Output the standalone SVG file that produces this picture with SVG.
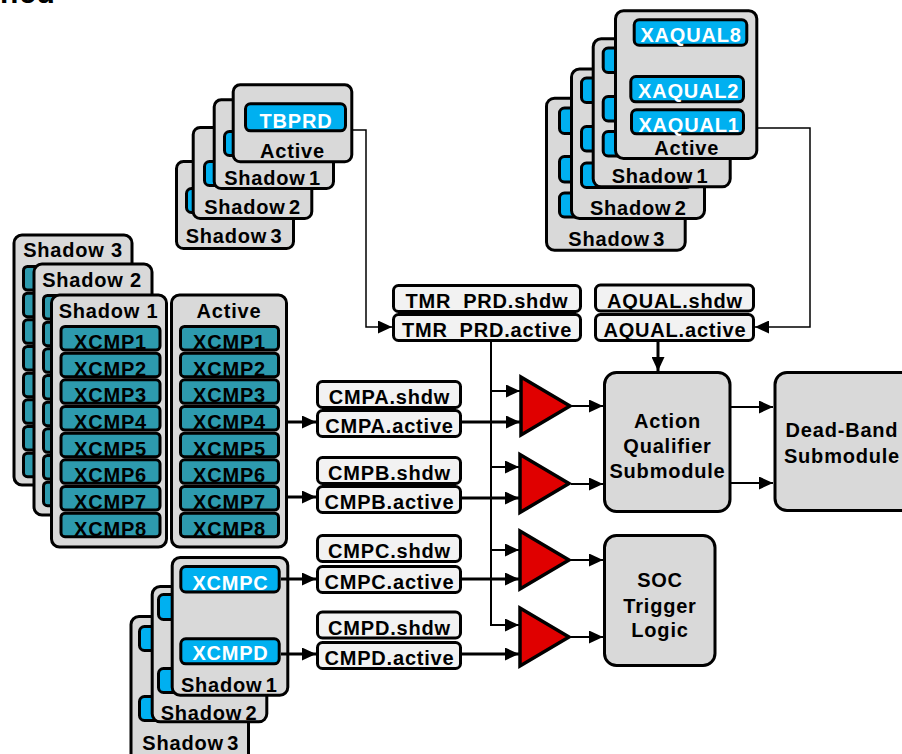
<svg xmlns="http://www.w3.org/2000/svg" width="902" height="754" viewBox="0 0 902 754">
<style>
text{font-family:"Liberation Sans",Arial,sans-serif;font-weight:bold;font-size:20px;letter-spacing:0.8px;text-anchor:middle;fill:#000}
.wt{fill:#fff}
.tight{word-spacing:-3px}
.box{fill:#d9d9d9;stroke:#000;stroke-width:3}
.reg{fill:#f2f2f2;stroke:#000;stroke-width:3}
.blue{fill:#00b0f0;stroke:#000;stroke-width:3}
.teal{fill:#2d9aae;stroke:#000;stroke-width:3}
.tri{fill:#e00000;stroke:#000;stroke-width:3.5;stroke-linejoin:miter}
.thin{fill:none;stroke:#000;stroke-width:1.5}
.mid{fill:none;stroke:#000;stroke-width:2}
.thick{fill:none;stroke:#000;stroke-width:3}
</style>
<defs>
<marker id="arrow" markerUnits="userSpaceOnUse" markerWidth="14" markerHeight="13" refX="14" refY="6.5" orient="auto"><path d="M0,0 L14,6.5 L0,13 z" fill="#000"/></marker>
</defs>
<rect width="902" height="754" fill="#fff"/>
<text x="0" y="3" style="font-size:30px;text-anchor:start">ned</text>

<!-- TBPRD register stack -->
<g id="tbprd-shadow3">
<rect class="box" x="176.5" y="161.5" width="117" height="87" rx="7"/>
<rect class="blue" x="186.5" y="188.5" width="90" height="24" rx="5"/>
<text class="tight" x="234" y="243">Shadow 3</text>
</g>
<g id="tbprd-shadow2">
<rect class="box" x="193.2" y="127.5" width="118.6" height="91" rx="7"/>
<rect class="blue" x="204.5" y="161.5" width="90" height="24" rx="5"/>
<text class="tight" x="252.5" y="214">Shadow 2</text>
</g>
<g id="tbprd-shadow1">
<rect class="box" x="214.2" y="99.8" width="119.3" height="88.7" rx="7"/>
<rect class="blue" x="224.5" y="131.5" width="90" height="24" rx="5"/>
<text class="tight" x="272.5" y="185">Shadow 1</text>
</g>
<g id="tbprd-active">
<rect class="box" x="233.2" y="84.8" width="118.6" height="77" rx="7"/>
<rect class="blue" x="245.5" y="103.8" width="100" height="27" rx="5"/>
<text class="wt" x="296" y="127.7">TBPRD</text>
<text x="292.5" y="158">Active</text>
</g>

<!-- XAQUAL register stack -->
<g id="xaqual-shadow3">
<rect class="box" x="546.5" y="98.2" width="138.7" height="152" rx="8"/>
<rect class="blue" x="559.5" y="108" width="110" height="25.5" rx="5"/>
<rect class="blue" x="559.5" y="156.5" width="110" height="25.5" rx="5"/>
<rect class="blue" x="559.5" y="193" width="110" height="24" rx="5"/>
<text class="tight" x="616.7" y="246">Shadow 3</text>
</g>
<g id="xaqual-shadow2">
<rect class="box" x="571.5" y="69" width="133" height="149.5" rx="8"/>
<rect class="blue" x="581.5" y="78" width="110" height="24.5" rx="5"/>
<rect class="blue" x="581.5" y="126.5" width="110" height="24.5" rx="5"/>
<rect class="blue" x="581.5" y="163" width="110" height="24.5" rx="5"/>
<text class="tight" x="638.3" y="215">Shadow 2</text>
</g>
<g id="xaqual-shadow1">
<rect class="box" x="593.2" y="38.8" width="137" height="148" rx="8"/>
<rect class="blue" x="603.2" y="48" width="110" height="24.5" rx="5"/>
<rect class="blue" x="603.2" y="96.5" width="110" height="24.5" rx="5"/>
<rect class="blue" x="603.2" y="131.5" width="110" height="24.5" rx="5"/>
<text class="tight" x="660" y="183.3">Shadow 1</text>
</g>
<g id="xaqual-active">
<rect class="box" x="615.5" y="10.8" width="141.3" height="147.7" rx="8"/>
<rect class="blue" x="634.2" y="19.8" width="112.6" height="25.4" rx="5"/>
<rect class="blue" x="630.8" y="76.5" width="112.7" height="25.3" rx="5"/>
<rect class="blue" x="631.5" y="109.8" width="112" height="24" rx="5"/>
<text class="wt" x="691" y="41.7">XAQUAL8</text>
<text class="wt" x="688.6" y="98.3">XAQUAL2</text>
<text class="wt" x="689" y="131.5">XAQUAL1</text>
<text x="686.7" y="155">Active</text>
</g>

<!-- XCMP1..8 register stack -->
<g id="xcmp-shadow3">
<rect class="box" x="14" y="235" width="118" height="250" rx="8"/>
<g class="teal">
<rect x="23.5" y="266.5" width="99" height="23.5" rx="4"/>
<rect x="23.5" y="293.17" width="99" height="23.5" rx="4"/>
<rect x="23.5" y="319.83" width="99" height="23.5" rx="4"/>
<rect x="23.5" y="346.5" width="99" height="23.5" rx="4"/>
<rect x="23.5" y="373.17" width="99" height="23.5" rx="4"/>
<rect x="23.5" y="399.83" width="99" height="23.5" rx="4"/>
<rect x="23.5" y="426.5" width="99" height="23.5" rx="4"/>
<rect x="23.5" y="453.17" width="99" height="23.5" rx="4"/>
</g>
<text x="73" y="257">Shadow 3</text>
</g>
<g id="xcmp-shadow2">
<rect class="box" x="34" y="264" width="118" height="251" rx="8"/>
<g class="teal">
<rect x="43.5" y="295.5" width="99" height="23.5" rx="4"/>
<rect x="43.5" y="322.17" width="99" height="23.5" rx="4"/>
<rect x="43.5" y="348.83" width="99" height="23.5" rx="4"/>
<rect x="43.5" y="375.5" width="99" height="23.5" rx="4"/>
<rect x="43.5" y="402.17" width="99" height="23.5" rx="4"/>
<rect x="43.5" y="428.83" width="99" height="23.5" rx="4"/>
<rect x="43.5" y="455.5" width="99" height="23.5" rx="4"/>
<rect x="43.5" y="482.17" width="99" height="23.5" rx="4"/>
</g>
<text x="92" y="287">Shadow 2</text>
</g>
<g id="xcmp-shadow1">
<rect class="box" x="51.5" y="295" width="115" height="252" rx="8"/>
<g class="teal">
<rect x="61" y="326.5" width="99" height="23.5" rx="4"/>
<rect x="61" y="353.17" width="99" height="23.5" rx="4"/>
<rect x="61" y="379.83" width="99" height="23.5" rx="4"/>
<rect x="61" y="406.5" width="99" height="23.5" rx="4"/>
<rect x="61" y="433.17" width="99" height="23.5" rx="4"/>
<rect x="61" y="459.83" width="99" height="23.5" rx="4"/>
<rect x="61" y="486.5" width="99" height="23.5" rx="4"/>
<rect x="61" y="513.17" width="99" height="23.5" rx="4"/>
</g>
<text x="108.5" y="318">Shadow 1</text>
<g class="wt">
<text x="110.5" y="349">XCMP1</text>
<text x="110.5" y="375.67">XCMP2</text>
<text x="110.5" y="402.33">XCMP3</text>
<text x="110.5" y="429">XCMP4</text>
<text x="110.5" y="455.67">XCMP5</text>
<text x="110.5" y="482.33">XCMP6</text>
<text x="110.5" y="509">XCMP7</text>
<text x="110.5" y="535.67">XCMP8</text>
</g>
</g>
<g id="xcmp-active">
<rect class="box" x="171.5" y="295" width="115" height="252" rx="8"/>
<g class="teal">
<rect x="180.5" y="326.5" width="98" height="23.5" rx="4"/>
<rect x="180.5" y="353.17" width="98" height="23.5" rx="4"/>
<rect x="180.5" y="379.83" width="98" height="23.5" rx="4"/>
<rect x="180.5" y="406.5" width="98" height="23.5" rx="4"/>
<rect x="180.5" y="433.17" width="98" height="23.5" rx="4"/>
<rect x="180.5" y="459.83" width="98" height="23.5" rx="4"/>
<rect x="180.5" y="486.5" width="98" height="23.5" rx="4"/>
<rect x="180.5" y="513.17" width="98" height="23.5" rx="4"/>
</g>
<text x="229" y="318">Active</text>
<g class="wt">
<text x="229.5" y="349">XCMP1</text>
<text x="229.5" y="375.67">XCMP2</text>
<text x="229.5" y="402.33">XCMP3</text>
<text x="229.5" y="429">XCMP4</text>
<text x="229.5" y="455.67">XCMP5</text>
<text x="229.5" y="482.33">XCMP6</text>
<text x="229.5" y="509">XCMP7</text>
<text x="229.5" y="535.67">XCMP8</text>
</g>
</g>

<!-- XCMPC / XCMPD register stack -->
<g id="xcmpcd-shadow3">
<rect class="box" x="131" y="616.5" width="117.5" height="150" rx="8"/>
<rect class="blue" x="139.5" y="626.5" width="99" height="24" rx="5"/>
<rect class="blue" x="139.5" y="696.5" width="99" height="24" rx="5"/>
<text class="tight" x="190.7" y="750">Shadow 3</text>
</g>
<g id="xcmpcd-shadow2">
<rect class="box" x="152.2" y="586.5" width="114.6" height="135.3" rx="8"/>
<rect class="blue" x="158.5" y="594.5" width="99" height="25" rx="5"/>
<rect class="blue" x="158.5" y="668.5" width="99" height="24" rx="5"/>
<text class="tight" x="209" y="720">Shadow 2</text>
</g>
<g id="xcmpcd-shadow1">
<rect class="box" x="172.2" y="557.5" width="115.6" height="137.7" rx="8"/>
<rect class="blue" x="180.8" y="566.5" width="98.4" height="25.5" rx="5"/>
<rect class="blue" x="180.8" y="638.8" width="98.4" height="25" rx="5"/>
<text class="wt" x="230.5" y="590">XCMPC</text>
<text class="wt" x="230.5" y="660">XCMPD</text>
<text class="tight" x="229.3" y="691.7">Shadow 1</text>
</g>

<!-- shadow / active register pairs -->
<g id="tmr-prd">
<rect class="reg" x="393.5" y="285.5" width="187" height="26" rx="5"/>
<rect class="reg" x="393.5" y="314.5" width="187" height="26" rx="5"/>
<text x="487" y="308.3">TMR_PRD.shdw</text>
<text x="487" y="337.3">TMR_PRD.active</text>
</g>
<g id="aqual">
<rect class="reg" x="595.5" y="285" width="158" height="26" rx="5"/>
<rect class="reg" x="595.5" y="314.5" width="158" height="26" rx="5"/>
<text x="675" y="307.8">AQUAL.shdw</text>
<text x="675" y="337.3">AQUAL.active</text>
</g>
<g id="cmpa">
<rect class="reg" x="317.5" y="381.5" width="143" height="26" rx="5"/>
<rect class="reg" x="317.5" y="410.5" width="143" height="26" rx="5"/>
<text x="389.5" y="404">CMPA.shdw</text>
<text x="389.5" y="433">CMPA.active</text>
</g>
<g id="cmpb">
<rect class="reg" x="317.5" y="457.5" width="143" height="26" rx="5"/>
<rect class="reg" x="317.5" y="486.5" width="143" height="26" rx="5"/>
<text x="389.5" y="480">CMPB.shdw</text>
<text x="389.5" y="509">CMPB.active</text>
</g>
<g id="cmpc">
<rect class="reg" x="317.5" y="535.5" width="143" height="26" rx="5"/>
<rect class="reg" x="317.5" y="566.5" width="143" height="26" rx="5"/>
<text x="389.5" y="558">CMPC.shdw</text>
<text x="389.5" y="589">CMPC.active</text>
</g>
<g id="cmpd">
<rect class="reg" x="317.5" y="612" width="143" height="26" rx="5"/>
<rect class="reg" x="317.5" y="642.5" width="143" height="26" rx="5"/>
<text x="389.5" y="634.5">CMPD.shdw</text>
<text x="389.5" y="665">CMPD.active</text>
</g>

<!-- comparators -->
<g id="cmp-a"><polygon class="tri" points="521,377 521,435 570,406"/></g>
<g id="cmp-b"><polygon class="tri" points="520,454.5 520,512.5 569,483.5"/></g>
<g id="cmp-c"><polygon class="tri" points="520,531 520,589 569,560"/></g>
<g id="cmp-d"><polygon class="tri" points="520,608 520,666 569,637"/></g>

<!-- submodules -->
<g id="action-qualifier">
<rect class="box" x="604.5" y="372.5" width="125.5" height="139" rx="12"/>
<text x="667.5" y="427.7">Action</text>
<text x="667.5" y="452.7">Qualifier</text>
<text x="667.5" y="478.3">Submodule</text>
</g>
<g id="dead-band">
<rect class="box" x="775" y="372.5" width="140" height="138" rx="12"/>
<text x="842" y="436.7">Dead-Band</text>
<text x="842" y="462.7">Submodule</text>
</g>
<g id="soc-trigger">
<rect class="box" x="604.5" y="535.5" width="110.5" height="130" rx="12"/>
<text x="660" y="586.7">SOC</text>
<text x="660" y="612.7">Trigger</text>
<text x="660" y="637.3">Logic</text>
</g>

<!-- connectors -->
<g id="connectors">
<path class="thin" d="M353,130 H366 V327 H392" marker-end="url(#arrow)"/>
<path class="thin" d="M758,128 H810 V327 H755" marker-end="url(#arrow)"/>
<path class="thick" d="M658,341 V371" marker-end="url(#arrow)"/>
<path class="mid" d="M491,341 V625 H519" marker-end="url(#arrow)"/>
<path class="mid" d="M491,391 H520" marker-end="url(#arrow)"/>
<path class="mid" d="M491,467 H519" marker-end="url(#arrow)"/>
<path class="mid" d="M491,550 H519" marker-end="url(#arrow)"/>
<path class="thick" d="M288,422 H316" marker-end="url(#arrow)"/>
<path class="thick" d="M288,497 H316" marker-end="url(#arrow)"/>
<path class="thick" d="M281,579 H316" marker-end="url(#arrow)"/>
<path class="thick" d="M281,654 H316" marker-end="url(#arrow)"/>
<path class="thick" d="M461,422 H520" marker-end="url(#arrow)"/>
<path class="thick" d="M461,498 H519" marker-end="url(#arrow)"/>
<path class="thick" d="M461,579 H519" marker-end="url(#arrow)"/>
<path class="thick" d="M461,654 H519" marker-end="url(#arrow)"/>
<path class="mid" d="M572,406 H603" marker-end="url(#arrow)"/>
<path class="mid" d="M571,484 H603" marker-end="url(#arrow)"/>
<path class="mid" d="M571,560 H603" marker-end="url(#arrow)"/>
<path class="mid" d="M571,637 H603" marker-end="url(#arrow)"/>
<path class="mid" d="M731,407 H773" marker-end="url(#arrow)"/>
<path class="mid" d="M731,483 H773" marker-end="url(#arrow)"/>
</g>
</svg>
